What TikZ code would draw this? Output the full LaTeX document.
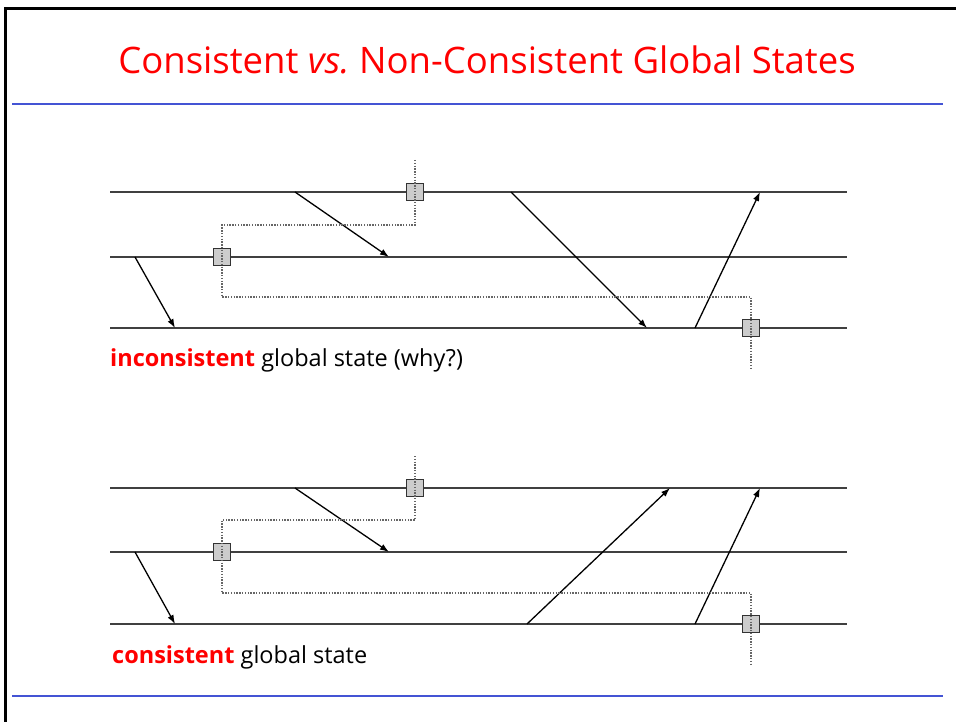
\documentclass[tikz,border=0pt]{standalone}
\usepackage{fontspec}
\setmainfont{Open Sans}
\usetikzlibrary{arrows.meta,positioning}
\definecolor{slidered}{RGB}{255,0,0}
\definecolor{ruleblue}{RGB}{68,84,212}

\begin{document}
\begin{tikzpicture}[x=1pt, y=-1pt,
    proc/.style={draw=black!75, line width=1.4pt},
    msg/.style={-{Latex[length=9pt,width=6.5pt]}, line width=1.3pt},
    ckpt/.style={draw=black!80, fill=black!20, line width=1.2pt, minimum size=16.5pt, inner sep=0pt},
    cut/.style={draw=black!60, line width=1.1pt, dash pattern=on 1.4pt off 1.4pt},
    rulebar/.style={draw=ruleblue, line width=2.2pt},
    caption/.style={anchor=base west, inner sep=0pt, font=\fontsize{23.5}{28}\selectfont}]
    \useasboundingbox (0,0) rectangle (956,722);

    % Frame and title
    \draw[line width=3pt] (5,722) -- (5,9) -- (958,9);
    \node[text=slidered, font=\fontsize{36.5}{42}\selectfont] (title) at (487,60) {Consistent \textit{vs.}\ Non-Consistent Global States};
    \coordinate (r1w) at (12,104);  \coordinate (r1e) at (943,104);
    \coordinate (r2w) at (12,696);  \coordinate (r2e) at (943,696);
    \draw[rulebar] (r1w) -- (r1e);
    \draw[rulebar] (r2w) -- (r2e);

    % Top: process lines
    \coordinate (ap1w) at (110,192); \coordinate (ap1e) at (847,192);
    \coordinate (ap2w) at (110,257); \coordinate (ap2e) at (847,257);
    \coordinate (ap3w) at (110,328); \coordinate (ap3e) at (847,328);
    \draw[proc] (ap1w) -- (ap1e);
    \draw[proc] (ap2w) -- (ap2e);
    \draw[proc] (ap3w) -- (ap3e);

    % Top: messages
    \coordinate (am1s) at (135,257); \coordinate (am1t) at (175,328);
    \coordinate (am2s) at (295,192); \coordinate (am2t) at (389,257);
    \coordinate (am3s) at (511,192); \coordinate (am3t) at (647,328);
    \coordinate (am4s) at (695,328); \coordinate (am4t) at (760,192);
    \draw[msg] (am1s) -- (am1t);
    \draw[msg] (am2s) -- (am2t);
    \draw[msg] (am3s) -- (am3t);
    \draw[msg] (am4s) -- (am4t);

    % Top: checkpoints and cut
    \node[ckpt] (ac1) at (415,192) {};
    \node[ckpt] (ac2) at (222,257) {};
    \node[ckpt] (ac3) at (751,328) {};
    \coordinate (acut0) at (415,160);
    \coordinate (acut1) at (415,225);
    \coordinate (acut2) at (222,297);
    \coordinate (acut3) at (751,368);
    \draw[cut] (acut0) -- (acut1) -| (ac2.center) -- (acut2) -| (ac3.center) -- (acut3);

    \node[caption] (alabel) at (110,366)
        {\textcolor{slidered}{\textbf{inconsistent}} global state (why?)};

    % Bottom: process lines
    \coordinate (bp1w) at (110,488); \coordinate (bp1e) at (847,488);
    \coordinate (bp2w) at (110,552); \coordinate (bp2e) at (847,552);
    \coordinate (bp3w) at (110,624); \coordinate (bp3e) at (847,624);
    \draw[proc] (bp1w) -- (bp1e);
    \draw[proc] (bp2w) -- (bp2e);
    \draw[proc] (bp3w) -- (bp3e);

    % Bottom: messages
    \coordinate (bm1s) at (135,552); \coordinate (bm1t) at (175,624);
    \coordinate (bm2s) at (295,488); \coordinate (bm2t) at (389,552);
    \coordinate (bm3s) at (527,624); \coordinate (bm3t) at (670,488);
    \coordinate (bm4s) at (695,624); \coordinate (bm4t) at (760,488);
    \draw[msg] (bm1s) -- (bm1t);
    \draw[msg] (bm2s) -- (bm2t);
    \draw[msg] (bm3s) -- (bm3t);
    \draw[msg] (bm4s) -- (bm4t);

    % Bottom: checkpoints and cut
    \node[ckpt] (bc1) at (415,488) {};
    \node[ckpt] (bc2) at (222,552) {};
    \node[ckpt] (bc3) at (751,624) {};
    \coordinate (bcut0) at (415,456);
    \coordinate (bcut1) at (415,520);
    \coordinate (bcut2) at (222,593);
    \coordinate (bcut3) at (751,664);
    \draw[cut] (bcut0) -- (bcut1) -| (bc2.center) -- (bcut2) -| (bc3.center) -- (bcut3);

    \node[caption] (blabel) at (112,663)
        {\textcolor{slidered}{\textbf{consistent}} global state};
\end{tikzpicture}
\end{document}
